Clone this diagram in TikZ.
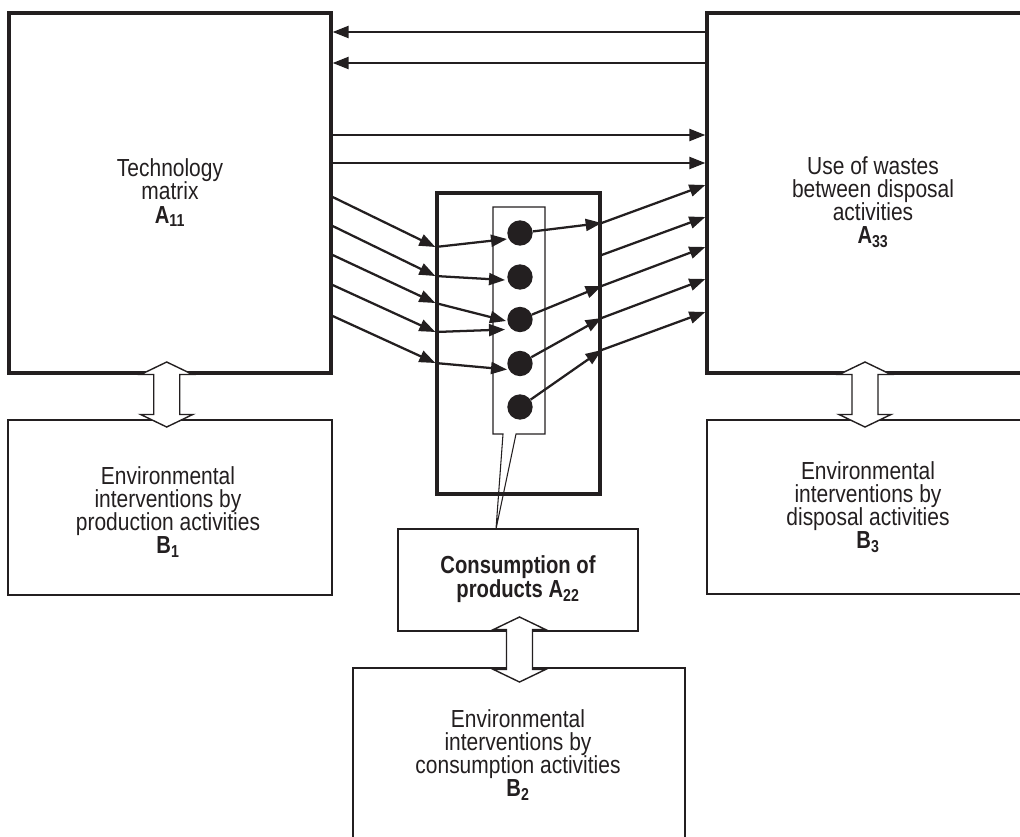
\documentclass[tikz,border=0pt]{standalone}
\usepackage{fontspec}
\setmainfont{Liberation Sans}[FakeStretch=0.85, BoldFeatures={FakeStretch=0.82}]
\usetikzlibrary{arrows.meta,fit}
\definecolor{ink}{RGB}{35,31,32}
\tikzset{
  heavy/.style={draw=ink, line width=2.5pt, inner sep=0pt},
  light/.style={draw=ink, line width=1.05pt, inner sep=0pt},
  conn/.style={draw=ink, line width=1.7pt, -{Triangle[length=12pt,width=9pt]}},
  dot/.style={circle, fill=ink, minimum size=19pt, inner sep=0pt},
  lbl/.style={align=center, text=ink, inner sep=0pt, font=\fontsize{18.5}{17.3}\selectfont},
  dblarrow/.pic={
    \draw[draw=ink, line width=1.05pt, fill=white]
      (0,-32.5) -- (26,-20) -- (13,-20) -- (13,20) -- (26,20) -- (0,32.5)
      -- (-26,20) -- (-13,20) -- (-13,-20) -- (-26,-20) -- cycle;
  }
}
\begin{document}
\begin{tikzpicture}[x=0.75pt, y=-0.75pt]
\useasboundingbox (0,0) rectangle (1020,836);
\clip (0,0) rectangle (1020,836);

% main blocks
\node[heavy, fit={(9,13) (331,373)}] (A11) {};
\node[heavy, fit={(707,13) (1040,373)}] (A33) {};
\node[heavy, fit={(437,193) (600,494)}] (mid) {};
\node[light, fit={(8,420) (332,595)}] (B1) {};
\node[light, fit={(707,420) (1030,594)}] (B3) {};
\node[light, fit={(398,529) (638,631)}] (cons) {};
\node[light, fit={(353,668) (685,842)}] (B2) {};

% callout for the product column
\coordinate (tip) at (496,529);
\draw[draw=ink, line width=0.8pt] (493,207) -- (545,207) -- (545,434) -- (516,434)
  -- (tip) -- (503,434) -- (493,434) -- cycle;

% products
\node[dot] (d1) at (520,233) {};
\node[dot] (d2) at (520,277) {};
\node[dot] (d3) at (520,319.5) {};
\node[dot] (d4) at (520,363.5) {};
\node[dot] (d5) at (520,407) {};

% flows between production and disposal
\draw[conn] (A33.west |- 0,32) -- (A11.east |- 0,32);
\draw[conn] (A33.west |- 0,63) -- (A11.east |- 0,63);
\draw[conn] (A11.east |- 0,135) -- (A33.west |- 0,135);
\draw[conn] (A11.east |- 0,163) -- (A33.west |- 0,163);

% products delivered to consumption
\draw[conn] (A11.east |- 0,197) -- (mid.west |- 0,247);
\draw[conn] (A11.east |- 0,226) -- (mid.west |- 0,276);
\draw[conn] (A11.east |- 0,255) -- (mid.west |- 0,303);
\draw[conn] (A11.east |- 0,285) -- (mid.west |- 0,332);
\draw[conn] (A11.east |- 0,316) -- (mid.west |- 0,363);
\draw[conn] (mid.west |- 0,247) -- ([shift={(-13,6)}]d1.center);
\draw[conn] (mid.west |- 0,276) -- ([shift={(-15,3)}]d2.center);
\draw[conn] (mid.west |- 0,303) -- ([shift={(-14,1.5)}]d3.center);
\draw[conn] (mid.west |- 0,332) -- ([shift={(-15,10)}]d3.center);
\draw[conn] (mid.west |- 0,363) -- ([shift={(-13,6)}]d4.center);

% wastes sent to disposal
\draw[conn] (d1) -- (mid.east |- 0,223);
\draw[conn] (mid.east |- 0,223) -- (A33.west |- 0,185);
\draw[conn] (mid.east |- 0,255) -- (A33.west |- 0,217);
\draw[conn] (d3) -- (mid.east |- 0,286);
\draw[conn] (mid.east |- 0,286) -- (A33.west |- 0,247);
\draw[conn] (d4) -- (mid.east |- 0,318);
\draw[conn] (mid.east |- 0,318) -- (A33.west |- 0,279);
\draw[conn] (d5) -- (mid.east |- 0,350);
\draw[conn] (mid.east |- 0,350) -- (A33.west |- 0,312);

% exchanges with the environment
\pic at (166.7,394.5) {dblarrow};
\pic at (865,394.5) {dblarrow};
\pic at (519.5,649.5) {dblarrow};

% labels
\node[lbl] (tA11) at (170,193) {Technology\\matrix\\\textbf{A\textsubscript{11}}};
\node[lbl] (tA33) at (873,202) {Use of wastes\\between disposal\\activities\\\textbf{A\textsubscript{33}}};
\node[lbl] (tB1) at (168,512) {Environmental\\interventions by\\production activities\\\textbf{B\textsubscript{1}}};
\node[lbl] (tB3) at (868,507) {Environmental\\interventions by\\disposal activities\\\textbf{B\textsubscript{3}}};
\node[lbl] (tB2) at (518,755) {Environmental\\interventions by\\consumption activities\\\textbf{B\textsubscript{2}}};
\node[lbl, font=\bfseries\fontsize{18.5}{18.5}\selectfont] (tcons) at (518,579) {Consumption of\\products A\textsubscript{22}};
\end{tikzpicture}
\end{document}
